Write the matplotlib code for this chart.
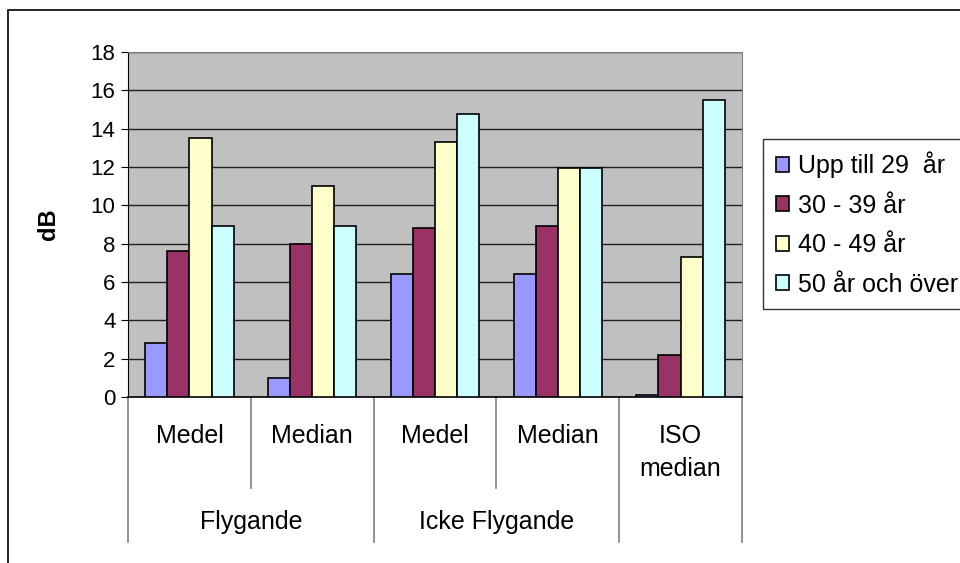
import matplotlib.pyplot as plt
import numpy as np
from matplotlib.patches import Rectangle
from matplotlib.lines import Line2D
import matplotlib.transforms as mtransforms

plt.rcParams['font.family'] = ['Liberation Sans', 'DejaVu Sans']

categories = ['Medel', 'Median', 'Medel', 'Median', 'ISO\nmedian']
groups = ['Flygande', 'Icke Flygande']
series_names = ['Upp till 29  år', '30 - 39 år', '40 - 49 år', '50 år och över']
upp_29 = [2.8, 1.0, 6.4, 6.4, 0.1]
a30_39 = [7.6, 8.0, 8.8, 8.9, 2.2]
a40_49 = [13.5, 11.0, 13.3, 11.95, 7.3]
a50_over = [8.9, 8.9, 14.75, 11.95, 15.5]
colors = ['#9999FF', '#993366', '#FFFFCC', '#CCFFFF']


def main():
	W, H = 960, 563
	fig = plt.figure(figsize=(W/100, H/100), dpi=100)

	# outer chart border (right/bottom fall outside the picture)
	fig.patches.append(Rectangle((8/W, -0.1), 1.2, 1 - 10/H + 0.1, transform=fig.transFigure,
		fill=False, edgecolor='black', linewidth=1.2))

	left, right, top, bottom = 128, 742, 52, 397
	ax = fig.add_axes([left/W, 1 - bottom/H, (right - left)/W, (bottom - top)/H])
	ax.set_facecolor('#C0C0C0')

	data = [upp_29, a30_39, a40_49, a50_over]
	x = np.arange(len(categories))
	bw = 0.18
	for i, vals in enumerate(data):
		ax.bar(x + (i - 1.5)*bw, vals, bw, color=colors[i], edgecolor='black',
			linewidth=1.2, label=series_names[i], zorder=3)

	ax.set_xlim(-0.5, len(categories) - 0.5)
	ax.set_ylim(0, 18)
	ax.set_yticks(np.arange(0, 19, 2))
	ax.tick_params(axis='y', labelsize=16, length=5, direction='out', pad=4)
	ax.grid(axis='y', color='#202020', linewidth=1, zorder=1)
	ax.set_xticks([])
	for s in ['top', 'right']:
		ax.spines[s].set_color('#808080')
	ax.spines['left'].set_color('black')
	ax.spines['bottom'].set_color('black')
	ax.spines['bottom'].set_linewidth(1.2)
	ax.set_ylabel('dB', fontsize=17, fontweight='bold', labelpad=22)

	# multi-level category axis
	trans = mtransforms.blended_transform_factory(ax.transData, ax.transAxes)
	ph = bottom - top
	def ay(py):
		return -(py - bottom)/ph
	outer = [-0.5, 1.5, 3.5, 4.5]
	inner = [0.5, 2.5]
	for b in outer:
		ax.add_line(Line2D([b, b], [0, ay(542)], transform=trans, color='#808080',
			linewidth=1.2, clip_on=False))
	for b in inner:
		ax.add_line(Line2D([b, b], [0, ay(488)], transform=trans, color='#808080',
			linewidth=1.2, clip_on=False))
	for i, c in enumerate(categories):
		ax.text(i, ay(424), c, transform=trans, ha='center', va='top', fontsize=18,
			linespacing=1.5)
	for g, gx in zip(groups, [0.5, 2.5]):
		ax.text(gx, ay(522), g, transform=trans, ha='center', va='center', fontsize=18)

	leg = fig.legend(loc='upper left', bbox_to_anchor=(763/W, 1 - 139/H), fontsize=18,
		frameon=True, fancybox=False, edgecolor='black', handlelength=0.55, handleheight=0.55,
		handletextpad=0.35, labelspacing=0.62, borderpad=0.5, borderaxespad=0)
	leg.get_frame().set_linewidth(1)

	fig.savefig('out.png', dpi=100)


if __name__ == '__main__':
	main()
